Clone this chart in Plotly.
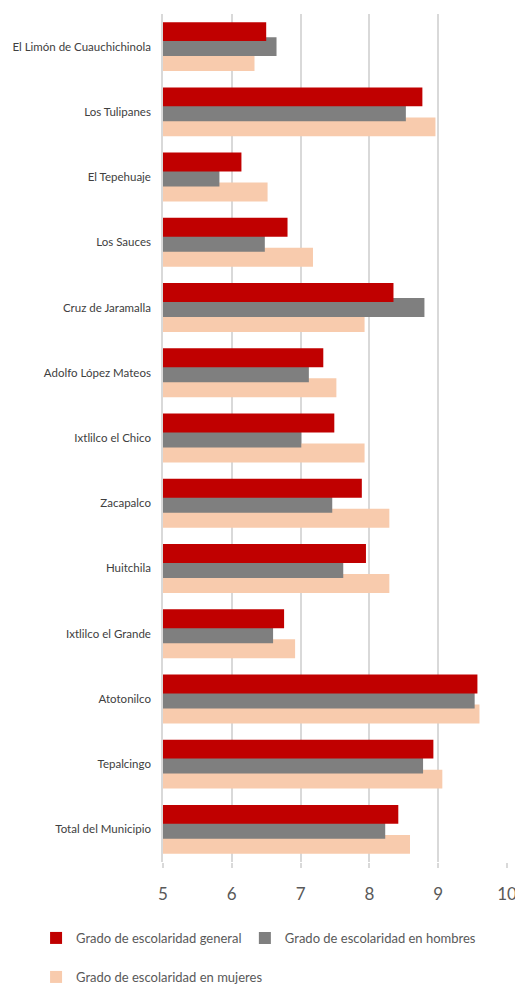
import plotly.graph_objects as go

categories = ["El Limón de Cuauchichinola", "Los Tulipanes", "El Tepehuaje", "Los Sauces",
              "Cruz de Jaramalla", "Adolfo López Mateos", "Ixtlilco el Chico", "Zacapalco",
              "Huitchila", "Ixtlilco el Grande", "Atotonilco", "Tepalcingo", "Total del Municipio"]
general = [6.50, 8.77, 6.14, 6.81, 8.35, 7.33, 7.49, 7.89, 7.95, 6.76, 9.57, 8.93, 8.42]
hombres = [6.65, 8.53, 5.82, 6.48, 8.80, 7.12, 7.01, 7.46, 7.62, 6.60, 9.53, 8.78, 8.23]
mujeres = [6.33, 8.96, 6.52, 7.18, 7.93, 7.52, 7.93, 8.29, 8.29, 6.92, 9.60, 9.06, 8.59]
series_names = ["Grado de escolaridad general", "Grado de escolaridad en hombres",
                "Grado de escolaridad en mujeres"]
tick_vals = [5, 6, 7, 8, 9, 10]

FONT = "Lato, Open Sans, sans-serif"

fig = go.Figure()
# drawn bottom-up so the red bar sits on top (Excel-style overlap)
fig.add_trace(go.Bar(y=categories, x=mujeres, name=series_names[2], orientation="h",
                     marker=dict(color="#F8CBAD", line=dict(width=0)),
                     width=0.29, offset=0.085, legend="legend2"))
fig.add_trace(go.Bar(y=categories, x=hombres, name=series_names[1], orientation="h",
                     marker=dict(color="#7F7F7F", line=dict(width=0)),
                     width=0.29, offset=-0.145, legend="legend3"))
fig.add_trace(go.Bar(y=categories, x=general, name=series_names[0], orientation="h",
                     marker=dict(color="#C00000", line=dict(width=0)),
                     width=0.29, offset=-0.375, legend="legend"))

leg_common = dict(orientation="h", xanchor="left", yanchor="middle",
                  font=dict(size=13, color="#595959", family=FONT), itemwidth=30,
                  bgcolor="rgba(0,0,0,0)")

fig.update_layout(
    width=515, height=986,
    margin=dict(l=163, r=8, t=14, b=124, autoexpand=False),
    paper_bgcolor="white", plot_bgcolor="white",
    barmode="overlay",
    font=dict(family=FONT, color="#595959"),
    xaxis=dict(range=[5, 10], tickvals=tick_vals, showgrid=True, gridcolor="#D9D9D9", gridwidth=1.5,
               zeroline=False, showline=False, ticks="outside", ticklen=5, tickcolor="#D9D9D9",
               tickwidth=1.5, ticklabelstandoff=12, ticklabeloverflow="allow", automargin=False,
               tickfont=dict(size=17, color="#595959", family=FONT), fixedrange=True),
    yaxis=dict(autorange="reversed", showline=True, linecolor="#D9D9D9", linewidth=1.5,
               ticks="", ticklabelstandoff=8, automargin=False,
               tickfont=dict(size=11.5, color="#404040", family=FONT)),
    legend=dict(x=-0.369, y=-0.0896, **leg_common),
    legend3=dict(x=0.238, y=-0.0896, **leg_common),
    legend2=dict(x=-0.369, y=-0.1356, **leg_common),
    showlegend=True,
)

fig.write_html("out.html", config={"displayModeBar": False},
               post_script="document.body.style.margin='0';document.body.style.overflow='hidden';")
